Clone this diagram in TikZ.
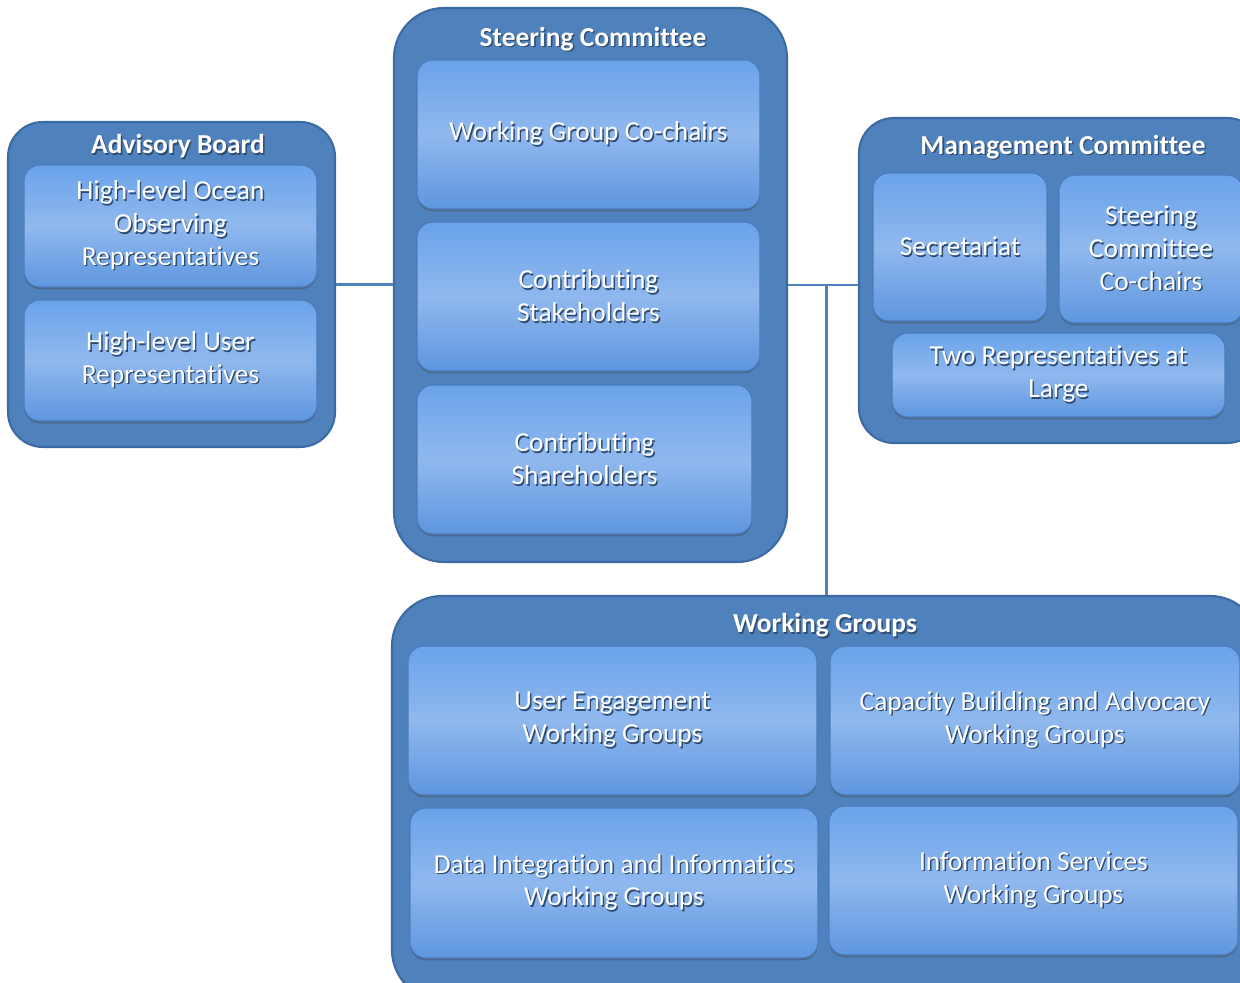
\documentclass[tikz,border=0pt]{standalone}
\usepackage{fontspec}
\setmainfont{Carlito}[Ligatures=NoCommon]
\usepackage{xcolor}
\usepackage{tikz}
\usetikzlibrary{shadows}

\definecolor{outerfill}{HTML}{4F81BD}
\definecolor{outerdraw}{HTML}{3C6AA2}
\definecolor{innertop}{HTML}{6AA3EA}
\definecolor{innermid}{HTML}{90B8EE}
\definecolor{innerbot}{HTML}{5E96DF}
\definecolor{innerdraw}{HTML}{4A7BBE}
\definecolor{txtshadow}{HTML}{2E4A70}

% white text with a small dark shadow
\newcommand\shd[1]{\makebox[0pt][l]{\kern0.8pt\raisebox{-0.8pt}{\textcolor{txtshadow}{#1}}}#1}

\tikzset{
  group/.style={draw=outerdraw,line width=1.2pt,fill=outerfill,rounded corners=7mm},
  title/.style={text=white,font=\bfseries\fontsize{15.6}{17}\selectfont},
  unit/.style={draw=innerdraw,line width=0.6pt,rounded corners=3.2mm,
    top color=innertop,bottom color=innerbot,middle color=innermid,
    drop shadow={shadow xshift=0pt,shadow yshift=-1.3pt,opacity=0.45,fill=black!70},
    text=white,align=center,font=\fontsize{15.6}{18.7}\selectfont},
  link/.style={draw=outerfill,line width=1.7pt}
}

\begin{document}
\begin{tikzpicture}[x=0.2mm,y=-0.2mm]
 \useasboundingbox (0,0) rectangle (1240,983);
 \begin{scope}
 \clip (0,0) rectangle (1240,983);
 % advisory board
 \node[group,minimum width=65.4mm,minimum height=65mm] (ab) at (171.5,284.5) {};
 \node[title] (abt) at (178,147) {\shd{Advisory Board}};
 \node[unit,minimum width=58.6mm,minimum height=24.4mm] (ab1) at (170.5,226) {\shd{High-level Ocean}\\\shd{Observing}\\\shd{Representatives}};
 \node[unit,minimum width=58.6mm,minimum height=24.2mm] (ab2) at (170.5,360.5) {\shd{High-level User}\\\shd{Representatives}};
 % steering committee
 \node[group,rounded corners=10mm,minimum width=78.6mm,minimum height=110.8mm] (sc) at (590.5,285) {};
 \node[title] (sct) at (593,40) {\shd{Steering Committee}};
 \node[unit,minimum width=68.6mm,minimum height=29.8mm] (sc1) at (588.5,134.5) {\shd{Working Group Co-chairs}};
 \node[unit,minimum width=68.6mm,minimum height=29.8mm] (sc2) at (588.5,296.5) {\shd{Contributing}\\\shd{Stakeholders}};
 \node[unit,minimum width=67mm,minimum height=29.8mm] (sc3) at (584.5,459.5) {\shd{Contributing}\\\shd{Shareholders}};
 % management committee
 \node[group,minimum width=80.6mm,minimum height=65mm] (mc) at (1060.5,280.5) {};
 \node[title] (mct) at (1063,148) {\shd{Management Committee}};
 \node[unit,minimum width=34.8mm,minimum height=29.6mm] (mc1) at (960,247) {\shd{Secretariat}};
 \node[unit,minimum width=36.8mm,minimum height=29.6mm] (mc2) at (1151,249) {\shd{Steering}\\\shd{Committee}\\\shd{Co-chairs}};
 \node[unit,minimum width=66.6mm,minimum height=16.8mm] (mc3) at (1058.5,375) {\shd{Two Representatives at}\\\shd{Large}};
 % working groups
 \node[group,rounded corners=10mm,minimum width=173.6mm,minimum height=80.8mm] (wg) at (826,798) {};
 \node[title] (wgt) at (825,626) {\shd{Working Groups}};
 \node[unit,minimum width=81.8mm,minimum height=29.8mm] (wg1) at (612.5,720.5) {\shd{User Engagement}\\\shd{Working Groups}};
 \node[unit,minimum width=82mm,minimum height=29.8mm] (wg2) at (1035,720.5) {\shd{Capacity Building and Advocacy}\\\shd{Working Groups}};
 \node[unit,minimum width=81.6mm,minimum height=30mm] (wg3) at (614,883) {\shd{Data Integration and Informatics}\\\shd{Working Groups}};
 \node[unit,minimum width=81.8mm,minimum height=29.8mm] (wg4) at (1033.5,880.5) {\shd{Information Services}\\\shd{Working Groups}};
 % links
 \coordinate (jn) at (sc.east -| wg.north);
 \draw[link] (ab.east) -- (ab.east -| sc.west);
 \draw[link] (sc.east) -- (sc.east -| mc.west);
 \draw[link] (jn) -- (wg.north);
 \end{scope}
\end{tikzpicture}
\end{document}
